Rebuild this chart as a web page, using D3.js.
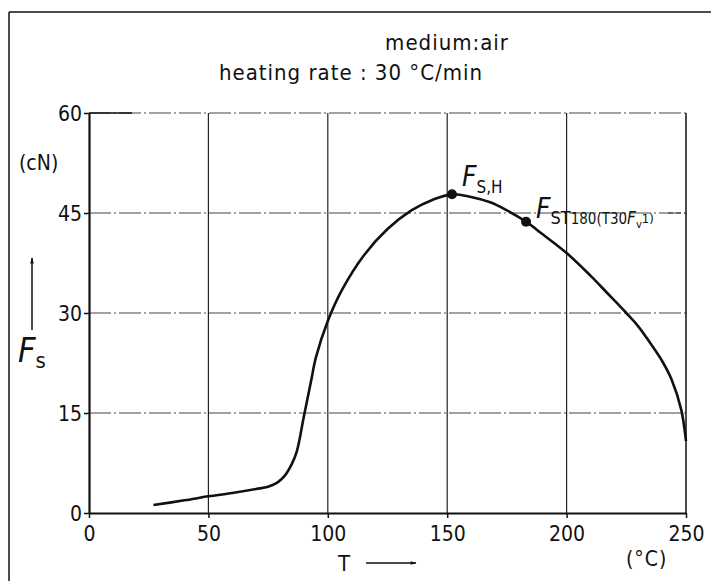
<!DOCTYPE html>
<html>
<head>
<meta charset="utf-8">
<script src="https://cdn.jsdelivr.net/npm/d3@7"></script>
<style>
  body { margin: 0; background: #fff; }
  svg text { font-family: "DejaVu Sans Condensed", "Liberation Sans Narrow", "DejaVu Sans", sans-serif; fill: #111; }
</style>
</head>
<body>
<div id="graf"></div>
<script>
// Datos
const temps = [27, 40, 50, 60, 70, 75, 79, 82, 85, 87, 90, 93, 95, 100, 106, 115, 125, 135, 144, 152, 160, 168, 175, 183, 190, 200, 210, 217, 225, 230, 235, 240, 244, 248, 250]
const fuerzas = [1.2, 1.9, 2.5, 3.0, 3.6, 3.95, 4.6, 5.6, 7.4, 9.2, 14.5, 19.8, 23.3, 28.8, 33.5, 38.6, 42.6, 45.4, 47, 47.8, 47.4, 46.6, 45.4, 43.7, 41.8, 39, 35.6, 33, 30, 28, 25.5, 22.8, 20, 15.5, 10.8]
const xTicks = [0, 50, 100, 150, 200, 250]
const yTicks = [0, 15, 30, 45, 60]
const puntosT = [152, 183]
const puntosF = [47.8, 43.7]

const datos = temps.map((t, i) => ({ T: t, F: fuerzas[i] }))

// Dimensiones
const anchoTotal = 711
const altoTotal = 581
const margins = { top: 113, right: 25, bottom: 68, left: 89 }
const ancho = anchoTotal - margins.left - margins.right
const alto = altoTotal - margins.top - margins.bottom

const svg = d3.select("#graf")
  .append("svg")
  .attr("width", anchoTotal)
  .attr("height", altoTotal)

// Marco
svg.append("line").attr("x1", 9).attr("x2", anchoTotal).attr("y1", 12).attr("y2", 12)
  .attr("stroke", "#111").attr("stroke-width", 1.5)
svg.append("line").attr("x1", 9).attr("x2", 9).attr("y1", 12).attr("y2", altoTotal)
  .attr("stroke", "#111").attr("stroke-width", 1.5)

const g = svg.append("g").attr("transform", `translate(${margins.left}, ${margins.top})`)

// Escaladores
const x = d3.scaleLinear().domain([0, 250]).range([0, ancho])
const y = d3.scaleLinear().domain([0, 60]).range([alto, 0])

// Rejilla
g.append("g").selectAll("line")
  .data(yTicks.filter((d) => d > 0))
  .enter()
  .append("line")
  .attr("x1", 0)
  .attr("x2", ancho)
  .attr("y1", (d) => y(d))
  .attr("y2", (d) => y(d))
  .attr("stroke", "#444")
  .attr("stroke-width", 1)
  .attr("stroke-dasharray", "22,3,2,3")

g.append("g").selectAll("line")
  .data(xTicks.filter((d) => d > 0 && d < 250))
  .enter()
  .append("line")
  .attr("x1", (d) => x(d))
  .attr("x2", (d) => x(d))
  .attr("y1", 0)
  .attr("y2", alto)
  .attr("stroke", "#222")
  .attr("stroke-width", 1.2)

// borde derecho y parte sólida de la línea superior
g.append("line").attr("x1", x(250)).attr("x2", x(250)).attr("y1", 0).attr("y2", alto)
  .attr("stroke", "#111").attr("stroke-width", 1.5)
g.append("line").attr("x1", 0).attr("x2", x(18)).attr("y1", y(60)).attr("y2", y(60))
  .attr("stroke", "#111").attr("stroke-width", 1.5)

// Ejes
const xAxis = d3.axisBottom(x).tickValues(xTicks).tickSize(5).tickSizeOuter(0).tickPadding(4)
const yAxis = d3.axisLeft(y).tickValues(yTicks).tickSize(5).tickSizeOuter(0).tickPadding(2)

const xAxisGroup = g.append("g").attr("transform", `translate(0, ${alto})`).call(xAxis)
const yAxisGroup = g.append("g").call(yAxis)

;[xAxisGroup, yAxisGroup].forEach((ax) => {
  ax.select(".domain").attr("stroke", "#111").attr("stroke-width", 2.2)
  ax.selectAll(".tick line").attr("stroke", "#111").attr("stroke-width", 1.5)
  ax.selectAll(".tick text").attr("font-size", 21).attr("fill", "#111")
})
xAxisGroup.selectAll(".tick text").attr("dy", "0.9em")
yAxisGroup.selectAll(".tick text").attr("dy", "0.35em")

// Curva
const linea = d3.line()
  .x((d) => x(d.T))
  .y((d) => y(d.F))
  .curve(d3.curveCatmullRom.alpha(0.5))

g.append("path")
  .datum(datos)
  .attr("d", linea)
  .attr("fill", "none")
  .attr("stroke", "#111")
  .attr("stroke-width", 2.6)

// Puntos
g.selectAll("circle")
  .data(puntosT)
  .enter()
  .append("circle")
  .attr("cx", (d) => x(d))
  .attr("cy", (d, i) => y(puntosF[i]))
  .attr("r", 5)
  .attr("fill", "#111")

// Etiquetas de puntos
const et1 = g.append("text")
  .attr("x", x(puntosT[0]) + 10)
  .attr("y", y(puntosF[0]) - 8)
et1.append("tspan").attr("font-size", 28).attr("font-style", "italic").text("F")
et1.append("tspan").attr("font-size", 17).attr("dy", 7).text("S,H")

const et2 = g.append("text")
  .attr("x", x(puntosT[1]) + 10)
  .attr("y", y(puntosF[1]) - 4)
et2.append("tspan").attr("font-size", 28).attr("font-style", "italic").text("F")
et2.append("tspan").attr("font-size", 18).attr("dy", 6).text("ST")
et2.append("tspan").attr("font-size", 15).text("180(T30")
et2.append("tspan").attr("font-size", 17).attr("font-style", "italic").text("F")
et2.append("tspan").attr("font-size", 11).attr("dy", 4).text("v")
et2.append("tspan").attr("font-size", 13).attr("dy", -5).text("1)")
g.append("line")
  .attr("x1", x(250) - 18).attr("x2", x(250))
  .attr("y1", y(45)).attr("y2", y(45))
  .attr("stroke", "#333").attr("stroke-dasharray", "5,3")

// Títulos
svg.append("text").attr("x", 447).attr("y", 50).attr("text-anchor", "middle")
  .attr("font-size", 22).attr("letter-spacing", 1).text("medium:air")
svg.append("text").attr("x", 351).attr("y", 80).attr("text-anchor", "middle")
  .attr("font-size", 22).attr("letter-spacing", 1).text("heating rate : 30 °C/min")

// Etiquetas de ejes
svg.append("text").attr("x", 19).attr("y", 170).attr("font-size", 21).text("(cN)")
const fs = svg.append("text").attr("x", 18).attr("y", 362)
fs.append("tspan").attr("font-size", 34).attr("font-style", "italic").text("F")
fs.append("tspan").attr("font-size", 22).attr("dy", 6).text("s")

svg.append("text").attr("x", 338).attr("y", 571).attr("font-size", 22).text("T")
svg.append("text").attr("x", 626).attr("y", 566).attr("font-size", 21).attr("letter-spacing", 1).text("(°C)")

// Flechas
svg.append("defs").append("marker")
  .attr("id", "punta")
  .attr("viewBox", "0 0 10 10")
  .attr("refX", 9).attr("refY", 5)
  .attr("markerWidth", 6).attr("markerHeight", 4)
  .attr("orient", "auto")
  .append("path").attr("d", "M0,2 L10,5 L0,8 Z").attr("fill", "#111")

svg.append("line").attr("x1", 32).attr("y1", 330).attr("x2", 32).attr("y2", 258)
  .attr("stroke", "#111").attr("stroke-width", 1.5).attr("marker-end", "url(#punta)")
svg.append("line").attr("x1", 366).attr("y1", 563).attr("x2", 416).attr("y2", 563)
  .attr("stroke", "#111").attr("stroke-width", 1.5).attr("marker-end", "url(#punta)")
</script>
</body>
</html>
